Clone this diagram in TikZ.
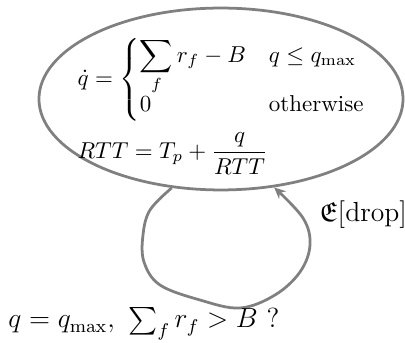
\documentclass[tikz,border=0pt]{standalone}
\usepackage{amsmath,amssymb}
\usetikzlibrary{arrows.meta,shapes.geometric}
\definecolor{lg}{gray}{0.5}
\begin{document}
\begin{tikzpicture}[x=0.4348pt,y=0.4348pt,
  ell/.style={ellipse,draw=lg,line width=1.2pt,inner sep=0pt,minimum width=158.3pt,minimum height=79.1pt},
  conn/.style={draw=lg,line width=1.2pt,-{Stealth[length=5pt,width=4.5pt]}},
  lbl/.style={inner sep=0pt,font=\large}]
\useasboundingbox (0,0) rectangle (405,343);
\node[ell] (e) at (221,244) {};
\node[inner sep=0pt,align=left] (eq) at (222,237) {$\displaystyle \dot q = \begin{cases}\displaystyle\sum_f r_f - B & q \le q_{\max}\\[-3pt] 0 & \text{otherwise}\end{cases}$\\[4pt]$\displaystyle RTT = T_p + \frac{q}{RTT}$};
\coordinate (a) at (e.241);
\coordinate (b) at (e.301);
\draw[conn] plot[smooth,tension=0.6] coordinates {(a) (150,133) (143,108) (144,81) (160,58) (200,43) (240,35) (275,48) (300,71) (310,98) (303,125) (b)};
\node[lbl,anchor=base west] (d) at (319,121) {$\mathfrak{E}[\text{drop}]$};
\node[lbl,anchor=base west] (c) at (8,15) {$q = q_{\max},\ \sum_f r_f > B\ ?$};
\end{tikzpicture}
\end{document}
